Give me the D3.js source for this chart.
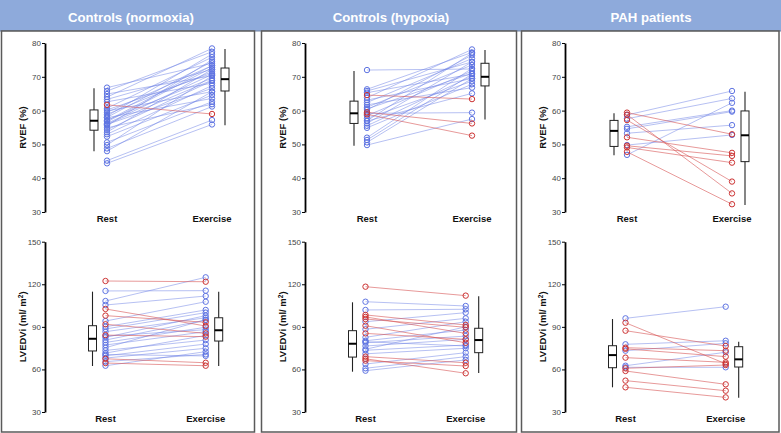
<!DOCTYPE html>
<html><head><meta charset="utf-8">
<script src="https://cdn.jsdelivr.net/npm/d3@7"></script>
<style>html,body{margin:0;padding:0;background:#fff;}svg{display:block;font-family:"Liberation Sans",Arial,sans-serif;}</style>
</head><body>
<svg id="c" width="781" height="433"></svg>
<script>
// ---------- data ----------
const panelTitles = ["Controls (normoxia)", "Controls (hypoxia)", "PAH patients"];
const xCategories = ["Rest", "Exercise"];
const rvefTicks = [30, 40, 50, 60, 70, 80];
const lvedviTicks = [30, 60, 90, 120, 150];

// [rest, exercise, group]  b = increase (blue), r = decrease (red)
const normRvef = [
  [66.8,74.0,"b"],[65.8,77.4,"b"],[64.9,70.3,"b"],[64.0,78.4,"b"],[63.3,72.2,"b"],[62.6,68.1,"b"],
  [60.7,75.8,"b"],[59.9,65.6,"b"],[59.5,73.3,"b"],[58.9,71.5,"b"],[58.4,76.7,"b"],[57.9,63.6,"b"],
  [57.2,69.6,"b"],[56.7,72.7,"b"],[56.2,70.7,"b"],[55.9,66.6,"b"],[55.5,75.0,"b"],[54.9,61.9,"b"],
  [54.3,68.8,"b"],[53.6,72.2,"b"],[53.0,67.4,"b"],[52.3,64.6,"b"],[50.6,62.6,"b"],[49.8,70.3,"b"],
  [48.8,61.2,"b"],[48.0,65.6,"b"],[45.2,57.2,"b"],[44.4,55.9,"b"],[57.0,73.3,"b"],[60.2,71.0,"b"],
  [56.0,69.0,"b"],[58.0,74.5,"b"],[61.7,59.0,"r"]
];
const normLvedvi = [
  [122.3,121.8,"r"],[115.3,115.5,"b"],[108.2,124.9,"b"],[105.4,111.7,"b"],[102.6,90.6,"r"],[97.9,93.2,"r"],
  [94.1,107.7,"b"],[91.8,85.4,"r"],[90.1,101.9,"b"],[88.5,100.0,"b"],[86.6,96.4,"b"],[84.2,83.1,"r"],
  [82.6,97.9,"b"],[80.7,94.8,"b"],[79.0,89.7,"b"],[77.2,86.6,"b"],[75.3,95.0,"b"],[73.4,80.7,"b"],
  [71.5,84.0,"b"],[69.6,77.9,"b"],[68.0,74.9,"b"],[67.5,64.7,"r"],[64.5,62.6,"r"],[62.6,72.5,"b"],
  [65.5,70.6,"b"],[70.5,69.5,"b"],[83.5,88.0,"b"]
];
const hypRvef = [
  [72.0,72.3,"b"],[66.3,77.2,"b"],[65.8,74.4,"b"],[65.3,70.8,"b"],[64.6,63.4,"r"],[63.8,78.1,"b"],
  [63.1,69.5,"b"],[62.4,75.4,"b"],[61.7,66.8,"b"],[61.0,73.5,"b"],[60.2,76.4,"b"],[59.2,59.4,"b"],
  [59.5,56.2,"r"],[58.9,52.6,"r"],[58.5,71.7,"b"],[57.7,68.7,"b"],[56.9,65.1,"b"],[56.2,74.4,"b"],
  [55.5,70.2,"b"],[54.9,67.8,"b"],[52.0,72.5,"b"],[51.3,70.8,"b"],[50.6,69.5,"b"],[49.8,57.5,"b"],
  [57.0,77.0,"b"],[60.5,71.0,"b"]
];
const hypLvedvi = [
  [118.3,112.0,"r"],[107.7,104.7,"b"],[101.9,102.4,"b"],[98.4,91.3,"r"],[97.0,85.4,"r"],[95.5,89.7,"r"],
  [93.6,100.0,"b"],[90.8,78.8,"r"],[88.3,96.0,"b"],[85.4,81.2,"r"],[82.6,93.6,"b"],[80.2,87.8,"b"],
  [78.8,83.5,"b"],[76.5,81.2,"b"],[74.2,90.0,"b"],[73.5,77.2,"b"],[69.0,64.7,"r"],[67.5,57.3,"r"],
  [66.2,62.4,"r"],[63.8,71.8,"b"],[60.8,69.0,"b"],[59.1,66.7,"b"],[71.0,74.9,"b"],[79.5,76.5,"b"]
];
const pahRvef = [
  [46.9,62.3,"b"],[58.7,65.8,"b"],[57.6,63.6,"b"],[55.2,60.0,"b"],[54.6,59.7,"b"],[53.3,55.7,"b"],
  [49.8,52.8,"b"],[59.4,53.0,"r"],[58.8,35.5,"r"],[57.2,39.0,"r"],[52.1,47.5,"r"],[49.6,46.6,"r"],
  [49.1,44.6,"r"],[47.8,32.3,"r"]
];
const pahLvedvi = [
  [96.0,104.2,"b"],[92.9,64.0,"r"],[87.3,76.5,"r"],[77.7,80.2,"b"],[73.2,78.4,"b"],[75.3,73.2,"r"],
  [74.5,69.0,"r"],[68.3,65.0,"r"],[62.6,72.1,"b"],[61.5,61.5,"b"],[58.9,49.5,"r"],[52.1,45.0,"r"],
  [47.4,40.3,"r"],[60.8,63.1,"r"]
];
// box stats [min, q1, median, q3, max] for rest and exercise
const normRvefBox = [[48.0,54.2,57.0,60.2,66.6],[55.7,65.8,69.3,72.6,78.2]];
const normLvedviBox = [[62.4,73.0,81.6,90.8,114.8],[62.4,80.0,87.6,96.4,114.8]];
const hypRvefBox = [[49.6,56.2,59.2,62.8,71.7],[57.4,67.3,70.0,74.0,77.9]];
const hypLvedviBox = [[58.4,68.7,78.1,87.3,107.3],[57.5,71.8,80.7,89.0,111.5]];
const pahRvefBox = [[46.8,49.4,54.0,57.1,59.2],[32.1,44.9,52.7,59.9,65.6]];
const pahLvedviBox = [[47.4,61.2,70.1,76.7,95.5],[40.1,61.7,67.1,76.0,79.5]];

// ---------- drawing ----------
const svg = d3.select("#c");
const W = 781, H = 433;
const panelLeft = [1.5, 261.5, 521.5];
const panelRight = [254.5, 516.5, 779];
const panelOffset = [0, 260, 520];

svg.append("rect").attr("x",0).attr("y",0).attr("width",W).attr("height",31).attr("fill","#8eaadb");
svg.append("line").attr("x1",0).attr("x2",W).attr("y1",31).attr("y2",31).attr("stroke","#6d7f9c").attr("stroke-width",1);

const blueLine = "#6f82e6", blueDot = "#5f74e2", redLine = "#d65252", redDot = "#cc3333";

const rows = [
  {label:"RVEF", ticks:rvefTicks, domain:[30,80], yr:[212,43], xr:[107,212], labelY:222,
   sets:[normRvef,hypRvef,pahRvef], boxes:[normRvefBox,hypRvefBox,pahRvefBox]},
  {label:"LVEDVi", ticks:lvedviTicks, domain:[30,150], yr:[412,241.7], xr:[105.5,205.7], labelY:421.5,
   sets:[normLvedvi,hypLvedvi,pahLvedvi], boxes:[normLvedviBox,hypLvedviBox,pahLvedviBox]}
];

panelTitles.forEach((t,i)=>{
  svg.append("rect").attr("x",panelLeft[i]).attr("y",31).attr("width",panelRight[i]-panelLeft[i])
    .attr("height",432-31).attr("fill","#fff").attr("stroke","#5a5a5a").attr("stroke-width",1.5);
  svg.append("text").attr("x",panelOffset[i]+131).attr("y",22).attr("text-anchor","middle")
    .attr("fill","#fff").attr("font-weight","bold").attr("font-size","13.2px").text(t);
});

rows.forEach((row,ri)=>{
  panelTitles.forEach((t,pi)=>{
    const off = panelOffset[pi];
    const g = svg.append("g").attr("transform",`translate(${off},0)`);
    const y = d3.scaleLinear().domain(row.domain).range(row.yr);
    const x = d3.scalePoint().domain(xCategories).range(row.xr);
    // axis
    const ax = g.append("g").attr("transform","translate(45,0)")
      .call(d3.axisLeft(y).tickValues(row.ticks).tickSize(3).tickPadding(1).tickSizeOuter(0));
    ax.select(".domain").attr("stroke","#000").attr("stroke-width",1.8);
    ax.selectAll(".tick line").attr("stroke","#000").attr("stroke-width",1);
    ax.selectAll(".tick text").attr("font-size","8px").attr("fill","#444")
      .attr("font-family","'Liberation Sans',Arial,sans-serif");
    // y label
    const mid = (row.yr[0]+row.yr[1])/2;
    const yl = g.append("text").attr("transform",`translate(23,${mid}) rotate(-90)`)
      .attr("text-anchor","middle").attr("dy","0.35em").attr("font-weight","bold").attr("font-size","9.5px").attr("fill","#111");
    if (ri===0) yl.text("RVEF (%)");
    else {
      yl.append("tspan").text("LVEDVi (ml/ m");
      yl.append("tspan").attr("baseline-shift","super").attr("font-size","6.5px").text("2");
      yl.append("tspan").text(")");
    }
    // x labels
    xCategories.forEach(c=>{
      g.append("text").attr("x",x(c)).attr("y",row.labelY).attr("text-anchor","middle")
        .attr("font-weight","bold").attr("font-size","9.5px").attr("fill","#111").text(c);
    });
    // boxes
    const bw = 8;
    row.boxes[pi].forEach((b,k)=>{
      const cx = x(xCategories[k]) + (k===0 ? -13 : 13);
      g.append("line").attr("x1",cx).attr("x2",cx).attr("y1",y(b[0])).attr("y2",y(b[4]))
        .attr("stroke","#222").attr("stroke-width",1.1);
      g.append("rect").attr("x",cx-bw/2).attr("y",y(b[3])).attr("width",bw).attr("height",y(b[1])-y(b[3]))
        .attr("fill","#fff").attr("stroke","#222").attr("stroke-width",1);
      g.append("line").attr("x1",cx-bw/2).attr("x2",cx+bw/2).attr("y1",y(b[2])).attr("y2",y(b[2]))
        .attr("stroke","#000").attr("stroke-width",2);
    });
    // paired lines
    const data = row.sets[pi].slice().sort((a,b)=> (a[2]==="r") - (b[2]==="r"));
    g.selectAll("line.pair").data(data).enter().append("line").attr("class","pair")
      .attr("x1",x("Rest")).attr("x2",x("Exercise"))
      .attr("y1",d=>y(d[0])).attr("y2",d=>y(d[1]))
      .attr("stroke",d=>d[2]==="r"?redLine:blueLine).attr("stroke-opacity",d=>d[2]==="r"?0.7:0.6)
      .attr("stroke-width",0.85);
    ["Rest","Exercise"].forEach((c,k)=>{
      g.selectAll("circle.p"+k).data(data).enter().append("circle").attr("class","p"+k)
        .attr("cx",x(c)).attr("cy",d=>y(d[k])).attr("r",2.7).attr("fill","none")
        .attr("stroke",d=>d[2]==="r"?redDot:blueDot).attr("stroke-width",1);
    });
  });
});
</script>
</body></html>
